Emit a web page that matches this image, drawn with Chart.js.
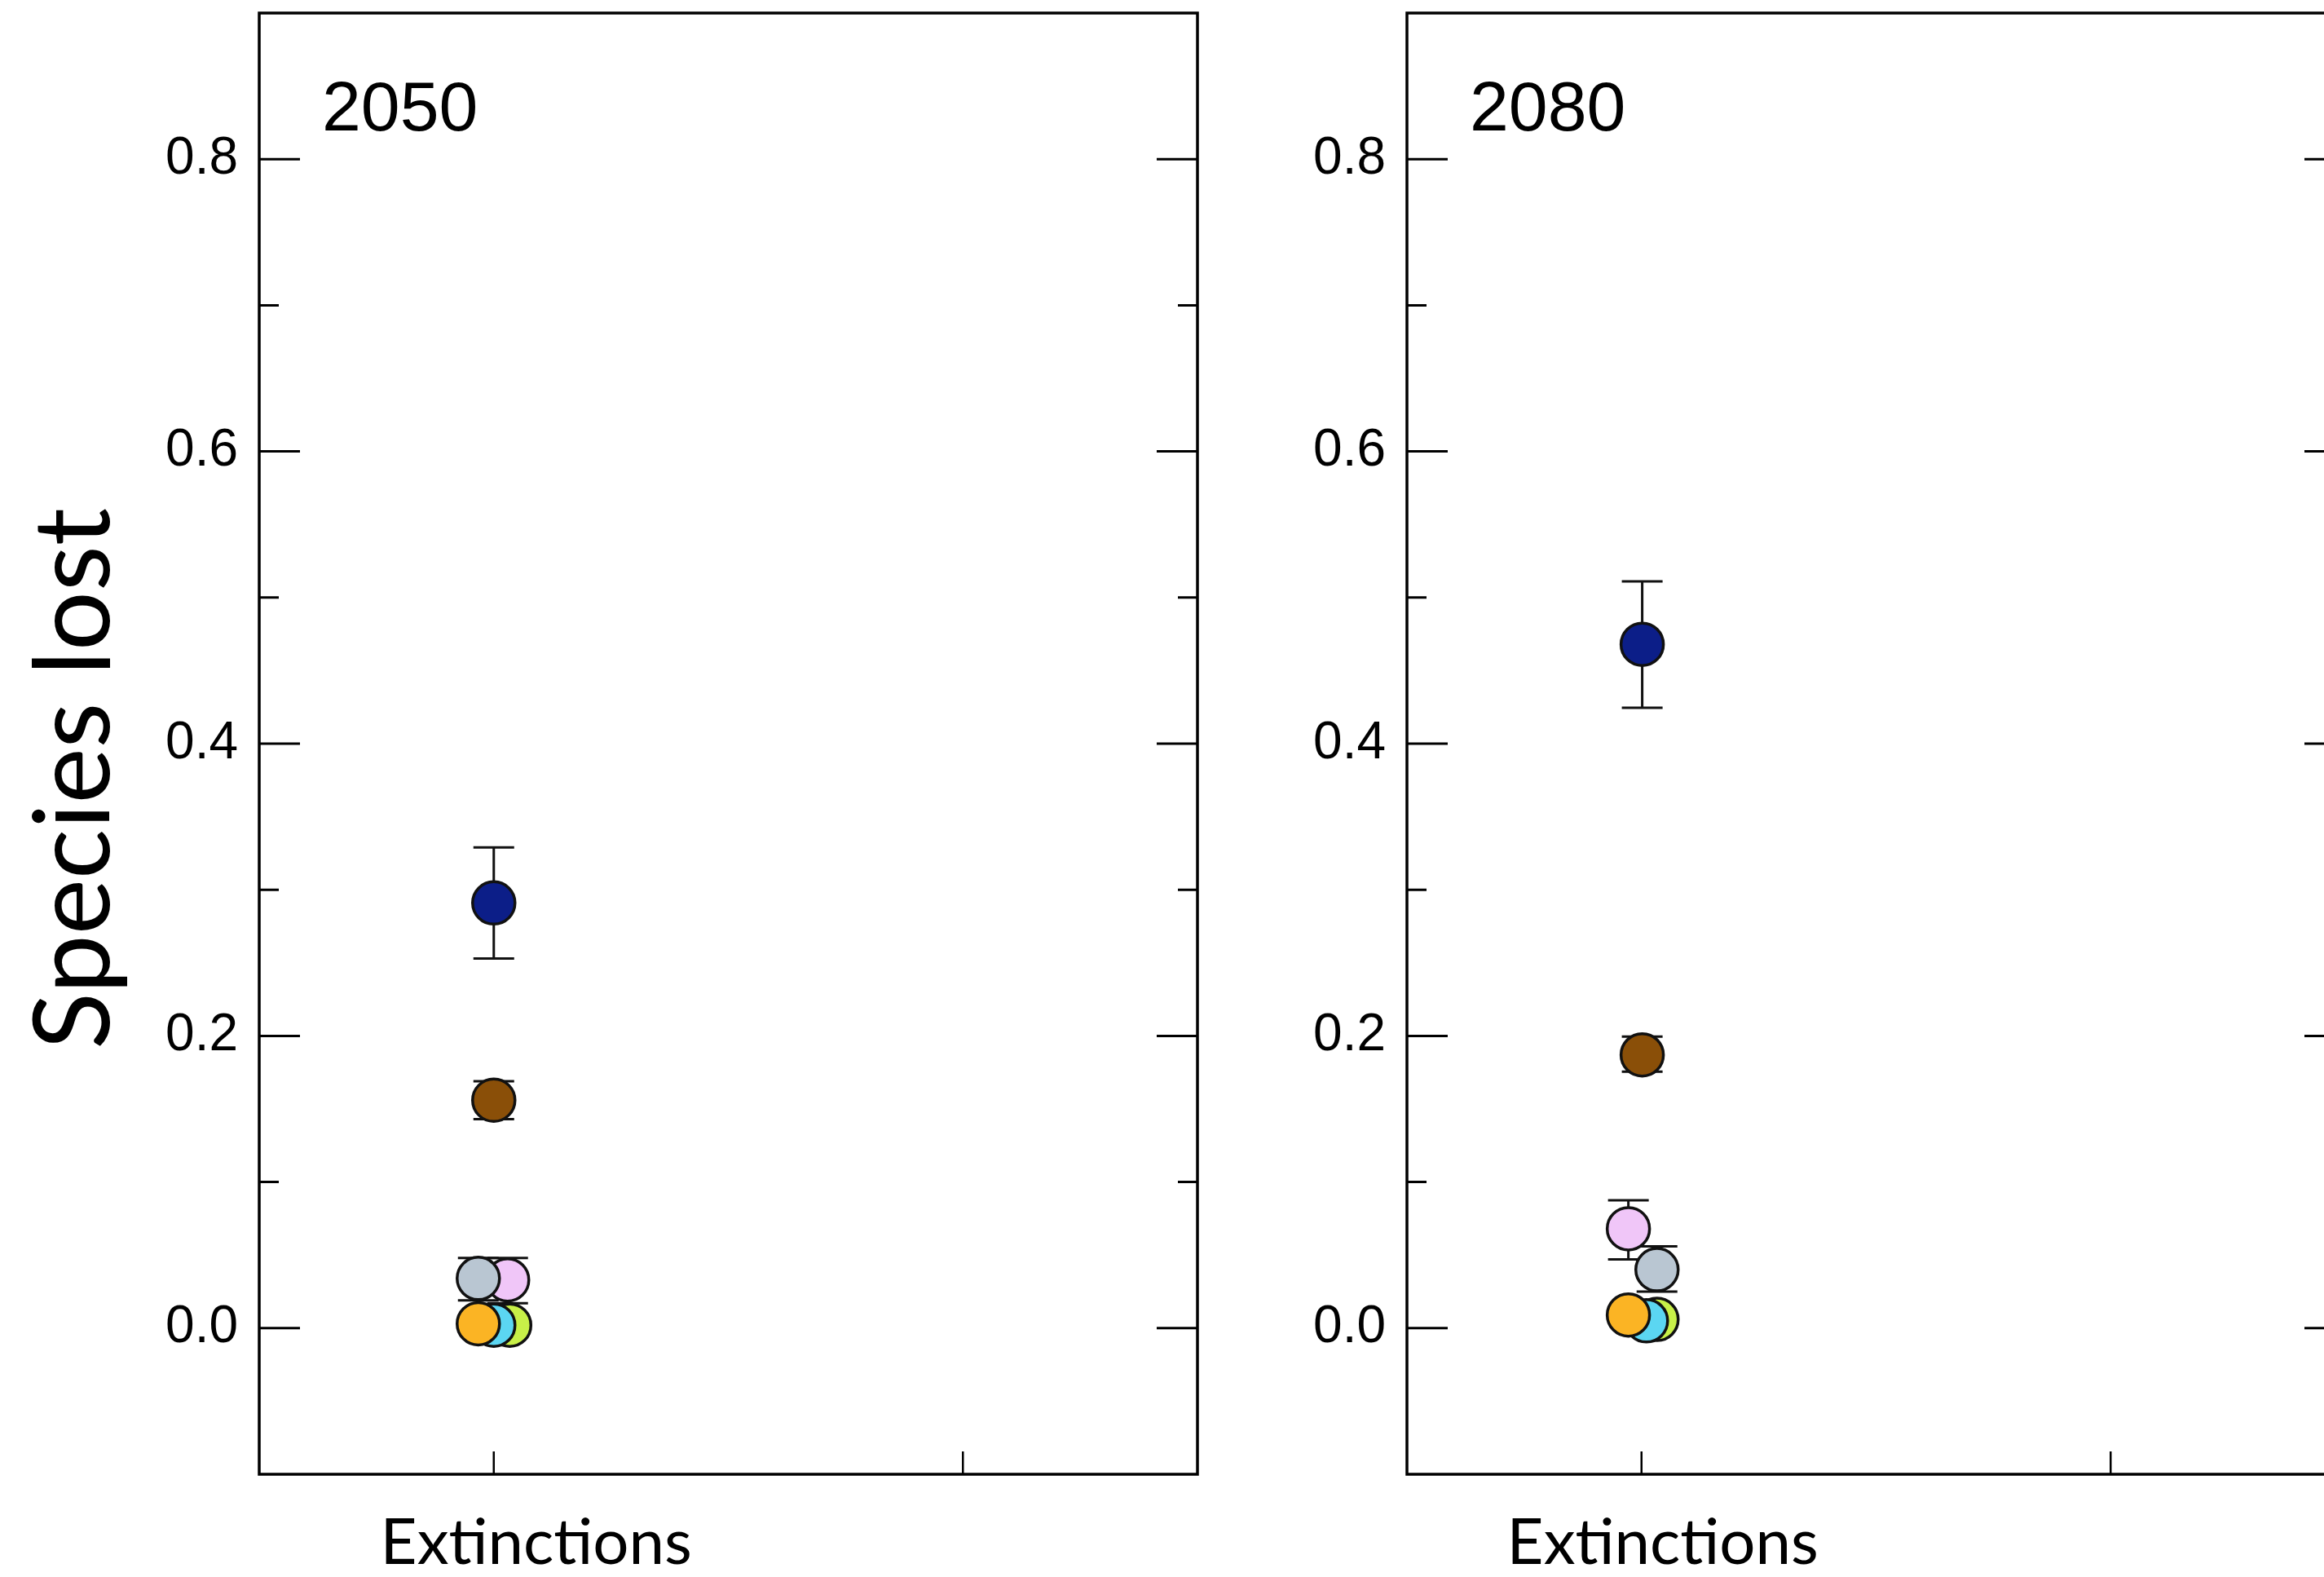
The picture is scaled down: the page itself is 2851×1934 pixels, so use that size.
<!DOCTYPE html>
<html><head><meta charset="utf-8">
<script src="https://cdn.jsdelivr.net/npm/chart.js@4.4.0/dist/chart.umd.min.js"></script>
<style>
html,body{margin:0;padding:0;background:#fff;overflow:hidden;width:2851px;height:1934px;}
canvas{position:absolute;top:0;}
#c1{left:0px}
#c2{left:1480px}
</style></head><body>
<canvas id="c1" width="1600" height="1934"></canvas>
<canvas id="c2" width="1500" height="1934"></canvas>
<script>
// ---- data ----
const seriesNames  = ['Group A','Group B','Group C','Group D','Group E','Group F','Group G'];
const seriesColors = ['#fbb424','#5bd6f2','#c8f048','#b9c6d2','#f0c6f8','#8a4f08','#0c1e88'];
const panelLabels  = ['2050','2080'];
const xTickValues  = [1, 3];
const xTickLabels  = ['Extinctions', ''];
const yTickValues  = [0, 0.2, 0.4, 0.6, 0.8];
const yTickLabels  = ['0.0','0.2','0.4','0.6','0.8'];
const yMinorTickValues = [0.1, 0.3, 0.5, 0.7];
const yAxisTitle   = 'Species lost';

// 2050
const x2050    = [0.934, 1.000, 1.068, 0.934, 1.059, 1.000, 1.000];
const mean2050 = [0.003, 0.002, 0.002, 0.034, 0.033, 0.156, 0.291];
const low2050  = [0.000, 0.000, 0.000, 0.019, 0.017, 0.143, 0.253];
const high2050 = [0.006, 0.004, 0.004, 0.048, 0.048, 0.169, 0.329];
// 2080
const x2080    = [0.944, 1.021, 1.066, 1.066, 0.944, 1.003, 1.003];
const mean2080 = [0.009, 0.005, 0.006, 0.040, 0.068, 0.187, 0.468];
const low2080  = [0.006, 0.002, 0.003, 0.025, 0.047, 0.1755, 0.4245];
const high2080 = [0.012, 0.008, 0.009, 0.056, 0.0875, 0.1995, 0.511];

// ---- plugin: frame, inward ticks, error bars, panel label, y title ----
const decorPlugin = {
  id: 'decor',
  beforeDatasetsDraw(chart) {
    const {ctx, chartArea: a, scales: {x, y}} = chart;
    const o = chart.options.plugins.decor;
    ctx.save();
    ctx.strokeStyle = '#000';
    ctx.lineWidth = 3.5;
    ctx.strokeRect(a.left, a.top, a.right - a.left, a.bottom - a.top);
    ctx.lineWidth = 3;
    ctx.beginPath();
    yTickValues.forEach(v => {
      const py = y.getPixelForValue(v);
      ctx.moveTo(a.left, py); ctx.lineTo(a.left + 50, py);
      ctx.moveTo(a.right, py); ctx.lineTo(a.right - 50, py);
    });
    yMinorTickValues.forEach(v => {
      const py = y.getPixelForValue(v);
      ctx.moveTo(a.left, py); ctx.lineTo(a.left + 24, py);
      ctx.moveTo(a.right, py); ctx.lineTo(a.right - 24, py);
    });
    ctx.stroke();
    ctx.lineWidth = 2.5;
    ctx.beginPath();
    xTickValues.forEach(v => {
      const px = x.getPixelForValue(v);
      ctx.moveTo(px, a.bottom); ctx.lineTo(px, a.bottom - 28);
    });
    ctx.stroke();
    // error bars (drawn under points)
    ctx.lineWidth = 3;
    ctx.strokeStyle = '#111';
    for (let i = chart.data.datasets.length - 1; i >= 0; i--) {
      const ds = chart.data.datasets[i];
      const px = x.getPixelForValue(ds.data[0].x);
      const pl = y.getPixelForValue(ds.errLow);
      const ph = y.getPixelForValue(ds.errHigh);
      ctx.beginPath();
      ctx.moveTo(px, pl); ctx.lineTo(px, ph);
      ctx.moveTo(px - 25, pl); ctx.lineTo(px + 25, pl);
      ctx.moveTo(px - 25, ph); ctx.lineTo(px + 25, ph);
      ctx.stroke();
    }
    // panel label
    ctx.fillStyle = '#000';
    ctx.font = '86px "Liberation Sans", Arial, sans-serif';
    ctx.textAlign = 'left';
    ctx.textBaseline = 'alphabetic';
    ctx.fillText(o.label, a.left + 77, a.top + 144);
    // y-axis title
    if (o.yTitle) {
      ctx.save();
      ctx.translate(a.left - 184, (a.top + a.bottom) / 2 + 43);
      ctx.rotate(-Math.PI / 2);
      ctx.textAlign = 'center';
      ctx.textBaseline = 'alphabetic';
      ctx.font = '129px Lato, "Open Sans", sans-serif';
      ctx.fillText(o.yTitle, 0, 0);
      ctx.restore();
    }
    ctx.restore();
  }
};

function makeChart(id, xs, means, lows, highs, label, yTitle, yWidth, padRight, labelOffset, tickPad) {
  const datasets = seriesNames.map((n, i) => ({
    label: n,
    data: [{x: xs[i], y: means[i]}],
    errLow: lows[i],
    errHigh: highs[i],
    backgroundColor: seriesColors[i],
    borderColor: '#111',
    borderWidth: 3.5,
    pointRadius: 26,
    pointHoverRadius: 26
  }));
  return new Chart(document.getElementById(id), {
    type: 'scatter',
    data: {datasets},
    plugins: [decorPlugin],
    options: {
      responsive: false,
      animation: false,
      devicePixelRatio: 1,
      layout: {autoPadding: false, padding: {left: 0, top: 16, right: padRight, bottom: 0}},
      plugins: {
        legend: {display: false},
        tooltip: {enabled: false},
        decor: {label, yTitle}
      },
      scales: {
        x: {
          type: 'linear', min: 0, max: 4,
          grid: {display: false, drawTicks: false},
          border: {display: false},
          afterBuildTicks: s => { s.ticks = xTickValues.map(v => ({value: v})); },
          afterFit: s => { s.height = 126; s.paddingLeft = 0; s.paddingRight = 0; },
          ticks: {
            autoSkip: false, maxRotation: 0, minRotation: 0,
            color: '#000', padding: tickPad, labelOffset: labelOffset,
            font: {family: 'Lato, "Open Sans", sans-serif', size: 78},
            callback: (v, i) => xTickLabels[i]
          }
        },
        y: {
          type: 'linear', min: -0.1, max: 0.9,
          grid: {display: false, drawTicks: false},
          border: {display: false},
          afterBuildTicks: s => { s.ticks = yTickValues.map(v => ({value: v})); },
          afterFit: s => { s.width = yWidth; s.paddingTop = 0; s.paddingBottom = 0; },
          ticks: {
            color: '#000', padding: 26,
            font: {family: '"Liberation Sans", Arial, sans-serif', size: 64},
            callback: (v, i) => yTickLabels[i]
          }
        }
      }
    }
  });
}

makeChart('c1', x2050, mean2050, low2050, high2050, panelLabels[0], yAxisTitle, 318, 131, 52, 38);
makeChart('c2', x2080, mean2080, low2080, high2080, panelLabels[1], null, 246, 103, 26, 38);
</script>
</body></html>
